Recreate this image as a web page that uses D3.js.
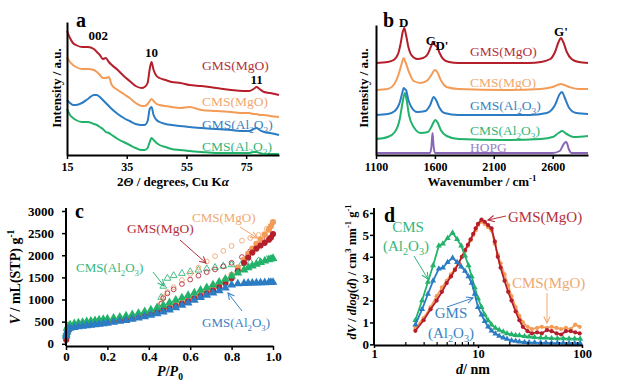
<!DOCTYPE html>
<html><head><meta charset="utf-8">
<script src="https://cdn.jsdelivr.net/npm/d3@7"></script>
<style>body{margin:0;background:#fff} svg{display:block} text{font-family:"Liberation Serif","Times New Roman",serif}</style>
</head><body><svg id="c" width="621" height="385"></svg>
<script>
// ---------------- DATA ----------------
const sampleNames = ["GMS(MgO)", "CMS(MgO)", "GMS(Al_2O_3)", "CMS(Al_2O_3)", "HOPG"];

// (a) XRD
const xrdTheta = [15,16,17,18,20,22,24,25,26,27,28,29,30,32,34,36,38,40,41,42,42.7,43.3,44,45,46,48,50,53,56,60,65,70,74,76,77.5,78.5,79.5,81,83,86];
const xrdGMSMgO = [124,117,112,110,108,108,106,103,100,96,97,93,90,85,79,74,69,67,68,72,86,93,85,79,77,75,73,72,70,69,67,65,64,64,66,68,66,63,62,60];
const xrdCMSMgO = [98,93,90,88,86,86,85,83,80,77,77,78,70,65,61,57,52,49,49,51,54,56,54,51,50,49,48,47,48,45,44,43,42,42,41,41,40,40,39,38];
const xrdGMSAl = [55,52,50,50,52,56,60,60,58,55,52,49,46,41,37,34,31,30,30,34,46,48,40,35,33,31,30,29,28,27,26,25,24,24,26,27,25,23,22,20];
const xrdCMSAl = [46,40,37,35,33,33,31,30,28,26,23,22,20,16,13,10,7,5,5,7,13,17,15,12,10,8,6,5,4,3,2,2,2,2,3,3,2,1,1,1];
const xrdPeakLabels = ["002", "10", "11"];
const xrdTicks = [15, 35, 55, 75];

// (b) Raman
const ramanGMSMgO_x = [1100,1200,1250,1290,1310,1325,1340,1355,1375,1400,1450,1500,1540,1565,1585,1600,1620,1640,1670,1720,1800,2000,2200,2400,2500,2580,2620,2650,2670,2690,2720,2760,2820,2900];
const ramanGMSMgO_y = [92,93,95,102,112,122,127,120,108,100,96,97,101,108,113,110,108,102,96,93,92,92,92,92,93,96,103,113,117,113,103,96,93,92];
const ramanCMSMgO_x = [1100,1200,1250,1290,1320,1335,1350,1380,1420,1480,1540,1570,1600,1620,1650,1700,1800,2200,2500,2600,2670,2740,2820,2900];
const ramanCMSMgO_y = [65,66,70,80,92,97,93,83,74,72,75,80,85,83,75,68,66,65,66,68,71,68,66,66];
const ramanGMSAl_x = [1100,1200,1260,1300,1325,1335,1345,1355,1375,1400,1450,1520,1560,1590,1610,1640,1680,1800,2400,2550,2620,2660,2680,2700,2740,2800,2900];
const ramanGMSAl_y = [40,41,44,52,63,67,66,65,55,48,43,44,50,58,55,47,42,40,40,42,50,61,63,58,47,42,41];
const ramanCMSAl_x = [1100,1200,1260,1300,1325,1345,1360,1380,1420,1480,1540,1570,1590,1605,1625,1650,1700,1800,2200,2500,2600,2650,2680,2720,2780,2900];
const ramanCMSAl_y = [16,18,23,35,52,62,55,40,28,22,23,28,33,35,32,25,19,16,15,16,18,22,24,21,18,19];
const ramanHOPG_x = [1100,1560,1572,1580,1588,1600,2600,2660,2700,2715,2740,2760,2900];
const ramanHOPG_y = [2,2,10,22,10,2,2,4,12,13,5,2,2];
const ramanPeakLabels = ["D", "G", "D'", "G'"];
const ramanTicks = [1100, 1600, 2100, 2600];

// (c) N2 isotherms
const adsP = [0.001,0.005,0.01,0.02,0.04,0.06,0.08,0.1,0.12,0.14,0.16,0.18,0.2,0.23,0.26,0.29,0.32,0.35,0.38,0.41,0.44,0.47,0.5,0.53,0.56,0.59,0.62,0.65,0.68,0.71,0.74,0.77,0.8,0.83,0.86,0.88,0.9,0.92,0.94,0.96,0.98,0.99,1.0];
const adsGMSMgO = [90,200,300,370,400,415,425,435,445,455,465,478,490,510,530,555,580,610,645,680,720,760,800,850,900,960,1020,1080,1140,1200,1280,1370,1480,1640,1830,1950,2060,2150,2220,2280,2350,2400,2480];
const adsCMSMgO = [150,260,330,390,420,435,445,455,465,475,487,498,510,530,552,575,600,628,660,695,735,780,830,880,940,1000,1060,1120,1190,1260,1340,1440,1560,1720,1900,2030,2150,2260,2360,2470,2580,2660,2750];
const adsGMSAl = [180,270,320,350,370,385,398,410,420,432,444,456,468,488,508,530,555,582,612,645,680,720,765,815,870,925,985,1045,1100,1150,1200,1260,1330,1355,1365,1370,1372,1375,1378,1382,1386,1388,1390];
const adsCMSAl = [220,350,400,430,455,470,485,500,512,525,538,550,562,582,605,630,658,690,725,765,815,870,930,985,1040,1095,1150,1210,1270,1330,1395,1460,1530,1600,1670,1720,1760,1800,1840,1870,1900,1915,1930];
const desP = [0.97,0.93,0.89,0.85,0.8,0.76,0.72,0.68,0.64,0.6,0.56,0.52,0.49,0.47,0.46];
const desGMSMgO = [2380,2230,2090,1960,1830,1750,1680,1620,1540,1450,1350,1230,1140,1030,900];
const desCMSMgO = [2600,2460,2390,2330,2210,2100,1980,1860,1720,1580,1440,1280,1170,1060,920];
const desGMSAl = [1388,1384,1380,1375,1365,1350,1330,1300,1260,1200,1120,1030,960,880,800];
const desCMSAl = [1905,1875,1845,1815,1785,1755,1725,1695,1665,1630,1590,1540,1480,1300,1050];
const isoYTicks = [0,500,1000,1500,2000,2500,3000];
const isoXTicks = [0,0.2,0.4,0.6,0.8,1.0];

// (d) Pore size distributions
const psdD_MgO = [2.5,3,3.5,4,4.5,5,5.5,6,6.5,7,7.5,8,8.5,9,9.5,10,10.8,11.6,12.5,13.5,14.5,15.5,16.5,18,19.5,21,23,25,27,30,33,37,41,46,51,57,63,70,78,86,95];
const psdGMSMgO = [0.62,1.1,1.6,2.0,2.4,2.8,3.1,3.4,3.7,4.0,4.3,4.55,4.8,5.05,5.3,5.5,5.7,5.6,5.45,5.3,4.7,4.0,3.5,2.9,2.4,2.0,1.5,1.1,0.8,0.6,0.5,0.55,0.5,0.65,0.6,0.5,0.45,0.6,0.6,0.55,0.5];
const psdCMSMgO = [0.75,1.2,1.7,2.2,2.6,2.9,3.2,3.45,3.7,4.0,4.25,4.5,4.75,5.0,5.2,5.45,5.6,5.5,5.35,5.2,4.6,4.1,3.7,3.2,2.7,2.2,1.7,1.3,1.0,0.8,0.7,0.75,0.8,0.75,0.8,0.75,0.7,0.75,0.7,0.9,0.8];
const psdD_Al = [2.5,2.9,3.3,3.7,4.2,4.6,5.1,5.7,6.3,6.9,7.5,8.1,8.7,9.3,10,10.8,11.6,12.5,13.5,14.7,16,17.5,19,21,23,25,28,31,35,40,45,51,58,66,75,85,96];
const psdGMSAl = [0.9,1.6,2.3,2.9,3.45,3.5,3.75,3.95,3.75,3.55,3.35,3.1,2.8,2.3,1.7,1.35,1.05,0.8,0.62,0.48,0.38,0.3,0.24,0.18,0.15,0.12,0.1,0.08,0.08,0.07,0.07,0.06,0.06,0.06,0.05,0.05,0.05];
const psdCMSAl = [1.1,2.0,2.85,3.6,4.5,4.6,4.85,5.1,4.8,4.5,4.05,3.6,3.1,2.6,2.1,1.7,1.35,1.1,0.9,0.75,0.65,0.57,0.5,0.45,0.42,0.4,0.37,0.35,0.32,0.3,0.3,0.28,0.27,0.27,0.26,0.26,0.25];
const psdYTicks = [0,1,2,3,4,5,6];
const psdXTicks = [1,10,100];

// ---------------- STYLE ----------------
const lineCol = ["#b51f2c", "#f39c57", "#2b7cc3", "#22b26a", "#8a66b8"];
const textCol = ["#b5303c", "#f0a872", "#3a82c4", "#35b67a", "#9a82c8"];
const svg = d3.select("#c");
const FONT = '"Liberation Serif","Times New Roman",serif';

function parts(s) {
  const out = [];
  const re = /(_[0-9]|\^-?[0-9]|\*[^*]+\*)/g;
  let last = 0, m;
  while ((m = re.exec(s))) {
    if (m.index > last) out.push([s.slice(last, m.index), ""]);
    const tok = m[0];
    if (tok[0] === "_") out.push([tok.slice(1), "sub"]);
    else if (tok[0] === "^") out.push([tok.slice(1), "sup"]);
    else out.push([tok.slice(1, -1), "i"]);
    last = re.lastIndex;
  }
  if (last < s.length) out.push([s.slice(last), ""]);
  return out;
}
function rich(x, y, str, o) {
  o = Object.assign({size: 13, anchor: "start", fill: "#000", weight: "normal", rotate: false}, o);
  const t = svg.append("text").attr("x", x).attr("y", y).attr("font-size", o.size)
    .attr("text-anchor", o.anchor).attr("fill", o.fill).attr("font-weight", o.weight)
    .attr("font-family", FONT);
  if (o.rotate) t.attr("transform", `rotate(-90 ${x} ${y})`);
  let shift = 0;
  parts(str).forEach(([s, st]) => {
    const ts = t.append("tspan").text(s);
    const target = st === "sub" ? o.size * 0.28 : st === "sup" ? -o.size * 0.4 : 0;
    if (target !== shift) { ts.attr("dy", target - shift); shift = target; }
    if (st === "sub" || st === "sup") ts.attr("font-size", o.size * 0.68);
    if (st === "i") ts.attr("font-style", "italic");
  });
  return t;
}
function styleAxis(g, size) {
  g.select(".domain").attr("stroke", "#000").attr("stroke-width", 2);
  g.selectAll(".tick line").attr("stroke", "#000").attr("stroke-width", 1.5);
  g.selectAll(".tick text").attr("font-family", FONT).attr("font-weight", "bold")
    .attr("font-size", size).attr("fill", "#000");
}
const defs = svg.append("defs");
textCol.forEach((c, i) => {
  defs.append("marker").attr("id", "ar" + i).attr("viewBox", "0 0 10 10")
    .attr("refX", 9).attr("refY", 5).attr("markerWidth", 8).attr("markerHeight", 8)
    .attr("orient", "auto-start-reverse").attr("markerUnits", "userSpaceOnUse")
    .append("path").attr("d", "M1,1 L9,5 L1,9").attr("fill", "none").attr("stroke", c).attr("stroke-width", 1.3);
});
function arrow(x1, y1, x2, y2, ci) {
  svg.append("line").attr("x1", x1).attr("y1", y1).attr("x2", x2).attr("y2", y2)
    .attr("stroke", textCol[ci]).attr("stroke-width", 1).attr("marker-end", `url(#ar${ci})`);
}
const intFmt = d3.format("d");

// ---------------- PANEL A ----------------
{
  const x = d3.scaleLinear().domain([15, 86]).range([67, 279]);
  const y = d3.scaleLinear().domain([0, 133]).range([155, 22]);
  const series = [xrdGMSMgO, xrdCMSMgO, xrdGMSAl, xrdCMSAl];
  const line = d3.line().curve(d3.curveMonotoneX);
  [3, 2, 1, 0].forEach(k => {
    svg.append("path").attr("fill", "none").attr("stroke", lineCol[k]).attr("stroke-width", 2)
      .attr("d", line(xrdTheta.map((t, i) => [x(t), y(series[k][i])])));
  });
  const gx = svg.append("g").attr("transform", "translate(0,155)")
    .call(d3.axisBottom(x).tickValues(xrdTicks).tickFormat(intFmt).tickSize(4).tickSizeOuter(0).tickPadding(3));
  styleAxis(gx, 12);
  const gy = svg.append("g").attr("transform", "translate(67,0)")
    .call(d3.axisLeft(y).tickValues([]).tickSizeOuter(0));
  styleAxis(gy, 12);
  rich(x(15) + 9, 27, "a", {size: 20, weight: "bold"});
  rich(x(25.5), 40, xrdPeakLabels[0], {size: 13, weight: "bold", anchor: "middle"});
  rich(x(43.3), 57, xrdPeakLabels[1], {size: 13, weight: "bold", anchor: "middle"});
  rich(x(78.5), 84, xrdPeakLabels[2], {size: 13, weight: "bold", anchor: "middle"});
  const ly = [70, 106, 129, 151];
  [0, 1, 2, 3].forEach(k => rich(202, ly[k], sampleNames[k], {size: 13.5, fill: textCol[k]}));
  rich(61, 88, "Intensity / a.u.", {size: 13, weight: "bold", anchor: "middle", rotate: true});
  rich(x(50.5), 186, "2*Θ* / degrees, Cu K*α*", {size: 13, weight: "bold", anchor: "middle"});
}

// ---------------- PANEL B ----------------
{
  const x = d3.scaleLinear().domain([1100, 2900]).range([376, 588]);
  const y = d3.scaleLinear().domain([0, 130]).range([155, 25]);
  const line = d3.line().curve(d3.curveMonotoneX);
  const S = [[ramanGMSMgO_x, ramanGMSMgO_y], [ramanCMSMgO_x, ramanCMSMgO_y], [ramanGMSAl_x, ramanGMSAl_y], [ramanCMSAl_x, ramanCMSAl_y], [ramanHOPG_x, ramanHOPG_y]];
  [4, 3, 2, 1, 0].forEach(k => {
    svg.append("path").attr("fill", "none").attr("stroke", lineCol[k]).attr("stroke-width", 2)
      .attr("d", line(S[k][0].map((v, i) => [x(v), y(S[k][1][i])])));
  });
  const gx = svg.append("g").attr("transform", "translate(0,155)")
    .call(d3.axisBottom(x).tickValues(ramanTicks).tickFormat(intFmt).tickSize(4).tickSizeOuter(0).tickPadding(3));
  styleAxis(gx, 12);
  const gy = svg.append("g").attr("transform", "translate(376,0)")
    .call(d3.axisLeft(y).tickValues([]).tickSizeOuter(0));
  styleAxis(gy, 12);
  rich(383, 27, "b", {size: 20, weight: "bold"});
  rich(x(1335), 27, ramanPeakLabels[0], {size: 13, weight: "bold", anchor: "middle"});
  rich(x(1565), 45, ramanPeakLabels[1], {size: 13, weight: "bold", anchor: "middle"});
  rich(x(1660), 50, ramanPeakLabels[2], {size: 13, weight: "bold", anchor: "middle"});
  rich(x(2670), 36, ramanPeakLabels[3], {size: 13, weight: "bold", anchor: "middle"});
  const ly = [56, 87, 110, 135, 152];
  [0, 1, 2, 3, 4].forEach(k => rich(470, ly[k], sampleNames[k], {size: 13.5, fill: textCol[k]}));
  rich(368, 88, "Intensity / a.u.", {size: 13, weight: "bold", anchor: "middle", rotate: true});
  rich(482, 186, "Wavenumber / cm^-1", {size: 13, weight: "bold", anchor: "middle"});
}

// ---------------- PANEL C ----------------
{
  const x = d3.scaleLinear().domain([0, 1]).range([66, 273]);
  const y = d3.scaleLinear().domain([-50, 3000]).range([346, 211]);
  const tri = d3.symbol().type(d3.symbolTriangle).size(34);
  const circ = d3.symbol().type(d3.symbolCircle).size(30);
  const des = [desGMSMgO, desCMSMgO, desGMSAl, desCMSAl];
  const ads = [adsGMSMgO, adsCMSMgO, adsGMSAl, adsCMSAl];
  const sym = [circ, circ, tri, tri];
  [3, 1, 0].forEach(k => {
    svg.append("g").selectAll("path").data(desP).join("path")
      .attr("transform", (p, i) => `translate(${x(p)},${y(des[k][i])})`)
      .attr("d", k >= 2 ? d3.symbol().type(d3.symbolTriangle).size(20)() : d3.symbol().type(d3.symbolCircle).size(18)())
      .attr("fill", "none").attr("stroke", textCol[k]).attr("stroke-width", 0.9);
  });
  [1, 0, 3, 2].forEach(k => {
    svg.append("g").selectAll("path").data(adsP).join("path")
      .attr("transform", (p, i) => `translate(${x(p)},${y(ads[k][i])})`)
      .attr("d", sym[k]()).attr("fill", lineCol[k]);
  });
  const gx = svg.append("g").attr("transform", "translate(0,346)")
    .call(d3.axisBottom(x).tickValues(isoXTicks).tickSize(4).tickSizeOuter(0).tickPadding(2)
      .tickFormat(d => d === 0 ? "0" : d3.format(".1f")(d)));
  styleAxis(gx, 13);
  const gy = svg.append("g").attr("transform", "translate(66,0)")
    .call(d3.axisLeft(y).tickValues(isoYTicks).tickFormat(intFmt).tickSize(4).tickSizeOuter(0).tickPadding(8));
  styleAxis(gy, 13);
  gy.select(".domain").attr("d", "M0,208V346");
  rich(75, 218, "c", {size: 20, weight: "bold"});
  rich(192, 222, sampleNames[1], {size: 13, fill: textCol[1]});
  arrow(240, 227, 257, 238, 1);
  rich(127, 233, sampleNames[0], {size: 13.5, fill: textCol[0]});
  arrow(180, 240, 206, 263, 0);
  rich(76, 272, sampleNames[3], {size: 13, fill: textCol[3]});
  arrow(153, 272, 164, 286, 3);
  rich(202, 327, sampleNames[2], {size: 13, fill: textCol[2]});
  arrow(242, 311, 228, 293, 2);
  rich(20, 277, "*V* / mL(STP) g^-1", {size: 14, weight: "bold", anchor: "middle", rotate: true});
  rich(170, 376, "*P*/*P*_0", {size: 14, weight: "bold", anchor: "middle"});
}

// ---------------- PANEL D ----------------
{
  const x = d3.scaleLog().domain([1, 100]).range([374, 582]);
  const y = d3.scaleLinear().domain([-0.03, 6]).range([345, 213]);
  const line = d3.line();
  const S = [[psdD_MgO, psdGMSMgO], [psdD_MgO, psdCMSMgO], [psdD_Al, psdGMSAl], [psdD_Al, psdCMSAl]];
  [1, 0, 3, 2].forEach(k => {
    const pts = S[k][0].map((d, i) => [x(d), y(S[k][1][i])]);
    svg.append("path").attr("fill", "none").attr("stroke", lineCol[k]).attr("stroke-width", 1.8).attr("d", line(pts));
    svg.append("g").selectAll("path").data(pts).join("path")
      .attr("transform", p => `translate(${p[0]},${p[1]})`)
      .attr("d", (k >= 2 ? d3.symbol().type(d3.symbolTriangle).size(16) : d3.symbol().type(d3.symbolCircle).size(14))())
      .attr("fill", lineCol[k]);
  });
  const minor = [];
  [1, 10].forEach(b => { for (let m = 2; m <= 9; m++) minor.push(b * m); });
  svg.append("g").attr("transform", "translate(0,345)")
    .call(d3.axisBottom(x).tickValues(minor).tickSize(-3).tickFormat("").tickSizeOuter(0))
    .call(g => { g.select(".domain").remove(); g.selectAll("line").attr("stroke", "#000").attr("stroke-width", 1.2); });
  const gx = svg.append("g").attr("transform", "translate(0,345)")
    .call(d3.axisBottom(x).tickValues(psdXTicks).tickFormat(intFmt).tickSize(3).tickSizeOuter(0).tickPadding(1));
  styleAxis(gx, 12.5);
  const gy = svg.append("g").attr("transform", "translate(374,0)")
    .call(d3.axisLeft(y).tickValues(psdYTicks).tickFormat(intFmt).tickSize(4).tickSizeOuter(0).tickPadding(1));
  styleAxis(gy, 13);
  gy.select(".domain").attr("d", "M0,208V345");
  rich(384, 222, "d", {size: 20, weight: "bold"});
  rich(508, 222, sampleNames[0], {size: 15, fill: textCol[0]});
  arrow(506, 216, 488, 220, 0);
  rich(408, 232, "CMS", {size: 15, fill: textCol[3], anchor: "middle"});
  rich(406, 251, "(Al_2O_3)", {size: 15, fill: textCol[3], anchor: "middle"});
  arrow(414, 256, 428, 279, 3);
  rich(451, 318, "GMS", {size: 15, fill: textCol[2], anchor: "middle"});
  rich(451, 338, "(Al_2O_3)", {size: 15, fill: textCol[2], anchor: "middle"});
  arrow(447, 307, 473, 298, 2);
  rich(512, 288, sampleNames[1], {size: 15, fill: textCol[1]});
  arrow(547, 293, 547, 323, 1);
  rich(356, 272, "*dV* / *dlog*(*d*) / cm^3 nm^-1 g^-1", {size: 12.5, weight: "bold", anchor: "middle", rotate: true});
  rich(473, 374, "*d*/ nm", {size: 14, weight: "bold", anchor: "middle"});
}
</script>
</body></html>
